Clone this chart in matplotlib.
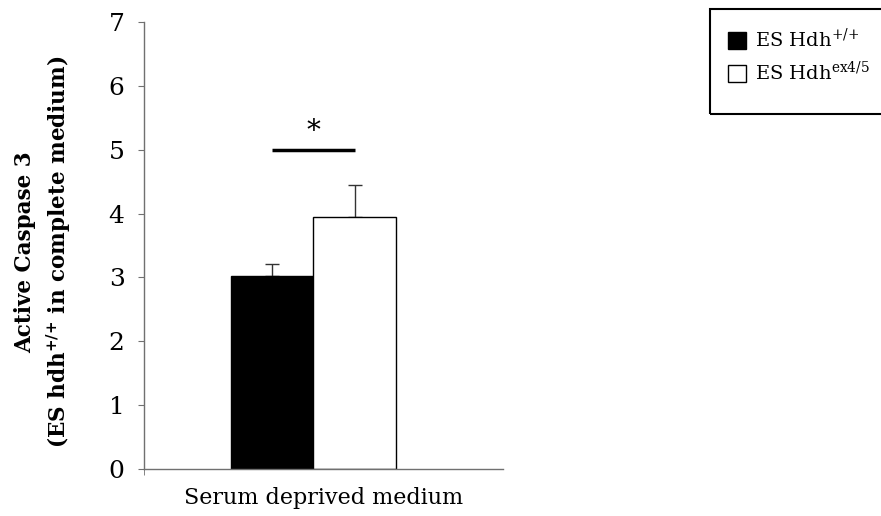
import matplotlib
matplotlib.use("Agg")
import matplotlib.pyplot as plt
from matplotlib.patches import Rectangle

plt.rcParams['font.family'] = ['DejaVu Serif']
plt.rcParams['mathtext.default'] = 'regular'

# Data
category = "Serum deprived medium"
groups = ["ES Hdh$^{{+}/{+}}$", "ES Hdh$^{ex4/5}$"]
means = [3.02, 3.95]
errors = [0.19, 0.50]
colors = ["black", "white"]
sig_y = 5.0

fig = plt.figure(figsize=(8.81, 5.16), dpi=100)
ax = fig.add_axes([0.1634, 0.0911, 0.4075, 0.8663])

axis_grey = '#707070'
bar_w = 0.229
group_center = -0.028
xs = [group_center - bar_w / 2, group_center + bar_w / 2]

handles = []
for x, m, e, c, lab in zip(xs, means, errors, colors, groups):
    b = ax.bar(x, m, width=bar_w, color=c, edgecolor='black', linewidth=1.0,
               label=lab, zorder=2)
    ax.errorbar(x, m, yerr=[[0], [e]], fmt='none', ecolor='#333333',
                elinewidth=1.0, capsize=5, capthick=1.0, zorder=1)
    handles.append(b)

# significance bracket
ax.plot([xs[0], xs[1]], [sig_y, sig_y], color='black', lw=2.5,
        solid_capstyle='butt')
ax.text(group_center, sig_y + 0.08, '*', ha='center', va='bottom', fontsize=20)

ax.set_xlim(-0.5, 0.5)
ax.set_ylim(0, 7)
ax.set_yticks(range(0, 8))
ax.set_xticks([0])
ax.set_xticklabels([category], fontsize=16)
ax.tick_params(axis='x', length=0, pad=13)
ax.set_xticks([-0.5], minor=True)
ax.tick_params(axis='x', which='minor', length=4, color=axis_grey, direction='out')
ax.tick_params(axis='y', labelsize=18, length=4, color=axis_grey, pad=10)

for s in ['top', 'right']:
    ax.spines[s].set_visible(False)
for s in ['left', 'bottom']:
    ax.spines[s].set_color(axis_grey)
    ax.spines[s].set_linewidth(1.0)

ax.set_ylabel("Active Caspase 3\n(ES hdh$^{{+}/{+}}$ in complete medium)",
              fontsize=15.5, fontweight='bold', linespacing=1.35, labelpad=26)
ax.yaxis.label.set_y(0.485)

# legend with a plain rectangular frame running off the right edge
fig.add_artist(Rectangle((710 / 881, 1 - 114 / 516), 0.3, 105 / 516,
                         transform=fig.transFigure, fill=False,
                         edgecolor='black', linewidth=1.5))
fig.legend(handles=handles, labels=groups, loc='upper left',
           bbox_to_anchor=(728 / 881, 1 - 28 / 516), frameon=False,
           fontsize=14, handlelength=0.93, handleheight=0.93,
           handletextpad=0.45, labelspacing=0.5, borderpad=0, borderaxespad=0)

fig.savefig("out.png", dpi=100)
